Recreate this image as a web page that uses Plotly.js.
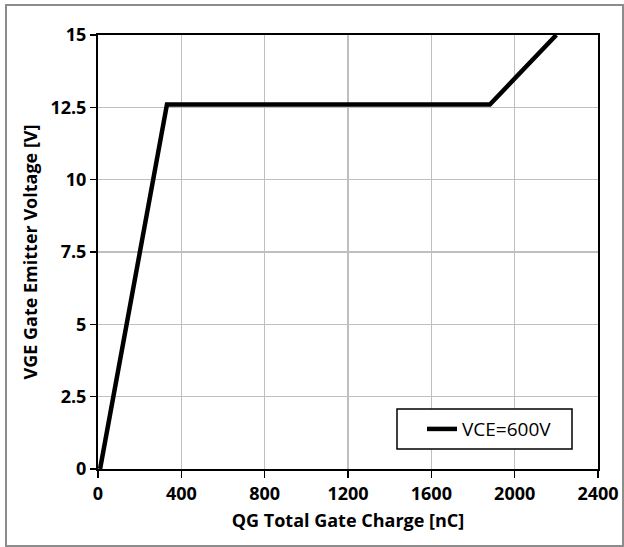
<!DOCTYPE html>
<html>
<head>
<meta charset="utf-8">
<script src="https://cdn.plot.ly/plotly-3.0.1.min.js"></script>
<style>
html,body{margin:0;padding:0;background:#fff;}
#wrap{position:relative;width:624px;height:547px;}
#chart{position:absolute;left:0;top:0;width:624px;height:547px;}
#frame{position:absolute;left:5px;top:4px;width:615px;height:539px;border:2px solid #8c8c8c;pointer-events:none;}
</style>
</head>
<body>
<div id="wrap"><div id="chart"></div><div id="frame"></div></div>
<script>
const seriesName = "VCE=600V";
const gateCharge = [10, 331, 1881, 2200];
const gateVoltage = [0, 12.6, 12.6, 15];
const xTickVals = [0, 400, 800, 1200, 1600, 2000, 2400];
const yTickVals = [0, 2.5, 5, 7.5, 10, 12.5, 15];
const yTickText = ["0", "2.5", "5", "7.5", "10", "12.5", "15"];

const fontFam = "'Open Sans', sans-serif";

const trace = {
  x: gateCharge, y: gateVoltage, type: "scatter", mode: "lines",
  name: seriesName, line: {color: "#000", width: 4.5}, cliponaxis: true
};

const layout = {
  width: 624, height: 547,
  margin: {l: 98, r: 26, t: 35, b: 78},
  paper_bgcolor: "#fff", plot_bgcolor: "#fff",
  showlegend: true,
  font: {family: fontFam, color: "#000"},
  xaxis: {
    range: [0, 2400], tickvals: xTickVals, ticks: "outside", ticklen: 7, tickwidth: 1.5, tickcolor: "#000",
    showgrid: true, gridcolor: "#bfbfbf", gridwidth: 1.5,
    showline: true, linecolor: "#000", linewidth: 2, mirror: true, zeroline: false,
    tickfont: {family: fontFam, size: 18, color: "#000", weight: "bold"},
    title: {text: "QG Total Gate Charge [nC]", font: {family: fontFam, size: 18, color: "#000", weight: "bold"}, standoff: 11}
  },
  yaxis: {
    range: [0, 15], tickvals: yTickVals, ticktext: yTickText, ticks: "outside", ticklen: 6, tickwidth: 1.5, tickcolor: "#000",
    showgrid: true, gridcolor: "#bfbfbf", gridwidth: 1.5,
    showline: true, linecolor: "#000", linewidth: 2, mirror: true, zeroline: false,
    tickfont: {family: fontFam, size: 18, color: "#000", weight: "bold"},
    title: {text: "VGE Gate Emitter Voltage [V]", font: {family: fontFam, size: 18, color: "#000", weight: "bold"}, standoff: 8}
  },
  legend: {
    x: 0.648, y: 0.092, xanchor: "left", yanchor: "middle",
    bgcolor: "rgba(0,0,0,0)", borderwidth: 0,
    font: {family: fontFam, size: 19, color: "#000"}
  },
  shapes: [{
    type: "rect", xref: "paper", yref: "paper",
    x0: 0.598, x1: 0.948, y0: 0.046, y1: 0.138,
    line: {color: "#000", width: 1.5}, fillcolor: "#fff", layer: "above"
  }]
};

Plotly.newPlot("chart", [trace], layout, {displayModeBar: false, staticPlot: true});
</script>
</body>
</html>
